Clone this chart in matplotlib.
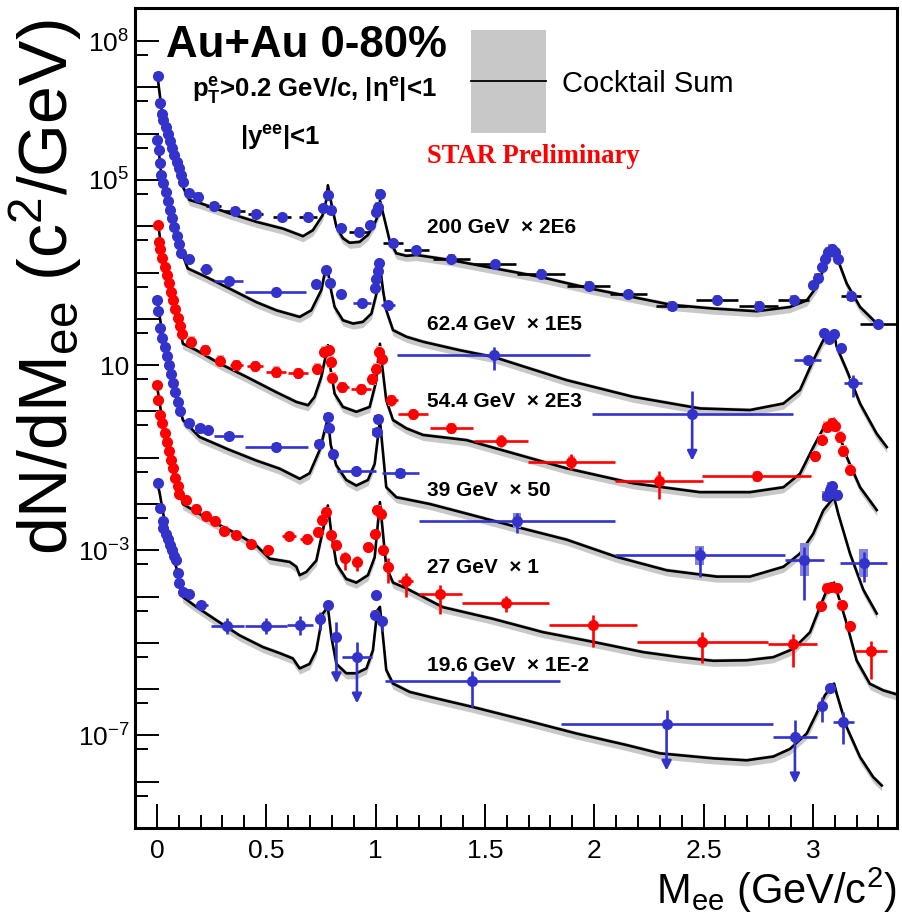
import numpy as np
import matplotlib
matplotlib.use("Agg")
import matplotlib.pyplot as plt
from matplotlib.patches import Rectangle
from matplotlib.ticker import FixedLocator, FuncFormatter

plt.rcParams['font.family'] = ['Liberation Sans', 'DejaVu Sans']
plt.rcParams['mathtext.default'] = 'regular'

# ---- 200 GeV (x 2E6) ----
e200_lm_x = [0.007, 0.015, 0.024, 0.03, 0.04, 0.05, 0.06, 0.07, 0.08, 0.09, 0.10, 0.11, 0.12]
e200_lm_y = [1.78e7, 4.7e6, 2.7e6, 1.95e6, 1.38e6, 1.0e6, 7.1e5, 5.0e5, 3.5e5, 2.5e5, 1.8e5, 1.26e5, 9.1e4]
e200_x = [0.146, 0.189, 0.259, 0.355, 0.451, 0.573, 0.691, 0.761, 0.783, 0.795, 0.843, 0.924, 0.976,
          1.003, 1.011, 1.019, 1.08, 1.186, 1.347, 1.546, 1.756, 1.974, 2.155, 2.354, 2.562, 2.752,
          2.912, 3.002, 3.022, 3.043, 3.055, 3.07, 3.086, 3.10, 3.113, 3.173, 3.30]
e200_y = [5.2e4, 4.3e4, 2.7e4, 2.1e4, 1.8e4, 1.55e4, 1.6e4, 2.45e4, 4.7e4, 2.2e4, 9.0e3, 7.6e3, 1.05e4,
          2.0e4, 2.6e4, 5.0e4, 4.3e3, 3.0e3, 2.0e3, 1.5e3, 9.5e2, 5.2e2, 3.4e2, 1.9e2, 2.6e2, 1.9e2,
          2.6e2, 5.3e2, 7.7e2, 1.3e3, 2.0e3, 2.8e3, 3.3e3, 2.8e3, 2.0e3, 3.1e2, 76]
e200_xerr = [0.02, 0.02, 0.034, 0.05, 0.035, 0.04, 0.04, 0, 0, 0, 0.02, 0.045, 0,
             0, 0, 0, 0.045, 0.057, 0.083, 0.095, 0.11, 0.10, 0.085, 0.07, 0.095, 0.09,
             0.07, 0, 0, 0, 0, 0, 0, 0, 0, 0.045, 0.085]

# ---- 62.4 GeV (x 1E5) ----
e62_lm_x = [0.0, 0.009, 0.012, 0.02, 0.03, 0.04, 0.05, 0.06, 0.07, 0.08, 0.09, 0.10, 0.11]
e62_lm_y = [7.2e5, 4.4e5, 2.3e5, 1.3e5, 8.5e4, 5.5e4, 3.5e4, 2.3e4, 1.5e4, 9.8e3, 6.3e3, 4.2e3, 2.7e3]
e62_x = [0.149, 0.226, 0.329, 0.543, 0.726, 0.772, 0.793, 0.843, 0.938, 0.996, 1.004, 1.011, 1.016,
         1.057, 1.54, 2.448, 2.976, 3.052, 3.074, 3.097, 3.127, 3.185]
e62_y = [2.0e3, 1.2e3, 6.6e2, 3.8e2, 5.6e2, 1.12e3, 6.0e2, 3.4e2, 2.2e2, 4.6e2, 7.3e2, 1.1e3, 1.58e3,
         1.95e2, 16.5, 0.86, 12.8, 48.5, 37, 46, 24, 4.1]
e62_xerr = [0, 0.027, 0.066, 0.14, 0, 0, 0, 0.015, 0.04, 0, 0, 0, 0,
            0.03, 0.44, 0.46, 0.063, 0, 0, 0, 0, 0.042]
e62_dn = [0, 0, 0, 0, 0, 0, 0, 0.05, 0.05, 0, 0, 0, 0, 0, 0.32, 0, 0.05, 0, 0, 0, 0, 0.3]
e62_up = [0, 0, 0, 0, 0, 0, 0, 0.05, 0.05, 0, 0, 0, 0, 0, 0.18, 0.51, 0.05, 0, 0, 0, 0, 0.17]
e62_ul = [15]

# ---- 54.4 GeV (x 2E3) ----
e54_lm_x = [0.004, 0.009, 0.015, 0.025, 0.035, 0.045, 0.055, 0.065, 0.075, 0.085, 0.095, 0.105, 0.115]
e54_lm_y = [1.05e4, 4.6e3, 3.2e3, 2.1e3, 1.35e3, 8.9e2, 5.9e2, 3.8e2, 2.5e2, 1.66e2, 1.07e2, 71, 46]
e54_x = [0.157, 0.222, 0.29, 0.363, 0.448, 0.546, 0.645, 0.734, 0.764, 0.785, 0.795, 0.802, 0.848,
         0.935, 0.985, 1.004, 1.016, 1.029, 1.072, 1.171, 1.347, 1.573, 1.896, 2.296, 2.743,
         3.01, 3.04, 3.063, 3.086, 3.101, 3.124, 3.139, 3.17]
e54_y = [32, 21, 12.6, 9.9, 9.4, 7.1, 6.7, 8.4, 19.3, 21, 11.7, 5.3, 3.3,
         3.0, 4.9, 8.4, 19.3, 13.8, 1.74, 0.86, 0.43, 0.23, 0.081, 0.032, 0.040,
         0.107, 0.245, 0.46, 0.55, 0.48, 0.28, 0.14, 0.055]
e54_xerr = [0, 0.01, 0.02, 0.03, 0.035, 0.045, 0.045, 0, 0, 0, 0, 0, 0.03,
            0.045, 0, 0, 0, 0, 0.03, 0.07, 0.099, 0.125, 0.2, 0.2, 0.25,
            0, 0, 0, 0, 0, 0, 0, 0]
e54_dn = [0] * 12 + [0.08, 0.06, 0, 0, 0, 0, 0.12, 0.06, 0.08, 0.12, 0.17, 0.4, 0.03,
                     0, 0, 0, 0, 0, 0.05, 0.08, 0.12]
e54_up = [0] * 12 + [0.08, 0.06, 0, 0, 0, 0, 0.12, 0.06, 0.08, 0.12, 0.17, 0.2, 0.03,
                     0, 0, 0, 0, 0, 0.05, 0.08, 0.12]

# ---- 39 GeV (x 50) ----
e39_lm_x = [0.0, 0.004, 0.015, 0.025, 0.035, 0.045, 0.055, 0.065, 0.075, 0.085, 0.095, 0.105]
e39_lm_y = [2.6e2, 1.5e2, 62, 39, 25, 15.8, 10, 6.3, 4.1, 2.6, 1.6, 1.03]
e39_x = [0.149, 0.195, 0.233, 0.329, 0.546, 0.741, 0.782, 0.785, 0.805, 0.912, 1.005, 1.011,
         1.113, 1.647, 2.483, 2.961, 3.063, 3.078, 3.086, 3.109, 3.232]
e39_y = [0.55, 0.43, 0.39, 0.29, 0.17, 0.20, 0.76, 0.43, 0.118, 0.051, 0.36, 0.70,
         0.046, 0.0044, 7.8e-4, 6.3e-4, 0.0148, 0.020, 0.024, 0.016, 5.4e-4]
e39_xerr = [0, 0.01, 0.015, 0.066, 0.145, 0, 0, 0, 0, 0.09, 0, 0,
            0.084, 0.447, 0.389, 0.089, 0, 0, 0, 0, 0.106]
e39_dn = [0] * 12 + [0.1, 0.27, 0.47, 0.88, 0, 0, 0, 0, 0.42]
e39_up = [0] * 12 + [0.1, 0.17, 0.18, 0.27, 0, 0, 0, 0, 0.23]
e39_sys = [0.08] * 12 + [0.1, 0.16, 0.2, 0.35, 0.1, 0.1, 0.1, 0.1, 0.3]

# ---- 27 GeV (x 1) ----
e27_lm_x = [0.0, 0.004, 0.015, 0.025, 0.035, 0.045, 0.055, 0.065, 0.075, 0.085, 0.095, 0.103]
e27_lm_y = [3.7, 1.8, 0.85, 0.55, 0.35, 0.22, 0.143, 0.091, 0.059, 0.037, 0.024, 0.0168]
e27_x = [0.134, 0.18, 0.226, 0.264, 0.309, 0.363, 0.432, 0.508, 0.604, 0.686, 0.736, 0.757,
         0.775, 0.798, 0.821, 0.859, 0.915, 0.967, 0.999, 1.008, 1.027, 1.034, 1.057, 1.138,
         1.297, 1.595, 1.995, 2.494, 2.908, 3.037, 3.063, 3.081, 3.109, 3.132, 3.17, 3.266]
e27_y = [0.0123, 0.0078, 0.0055, 0.0044, 0.0026, 0.0021, 0.00134, 0.00103, 0.0020, 0.00178,
         0.0025, 0.0045, 0.0068, 0.0021, 0.0013, 6.9e-4, 5.6e-4, 0.00115, 0.0022, 0.0074,
         0.0062, 0.0010, 4.4e-4, 2.2e-4, 1.12e-4, 7.3e-5, 2.4e-5, 1.07e-5, 9.5e-6, 6.4e-5,
         1.55e-4, 1.6e-4, 1.55e-4, 6.7e-5, 2.3e-5, 6.6e-6]
e27_xerr = [0, 0, 0, 0, 0.01, 0.015, 0.02, 0.02, 0.03, 0.03, 0, 0,
            0, 0, 0, 0.02, 0.02, 0, 0, 0, 0, 0, 0, 0.035,
            0.1, 0.2, 0.2, 0.3, 0.113, 0, 0, 0, 0, 0, 0, 0.075]
e27_dn = [0, 0, 0, 0, 0, 0, 0, 0.06, 0, 0, 0, 0, 0, 0, 0, 0.27, 0.2, 0, 0, 0, 0, 0.05,
          0.36, 0.35, 0.42, 0.2, 0.47, 0.47, 0.5, 0, 0, 0, 0, 0, 0.1, 0.6]
e27_up = [0, 0, 0, 0, 0, 0, 0, 0.06, 0, 0, 0, 0, 0, 0, 0, 0.12, 0.12, 0, 0, 0, 0, 0.05,
          0.18, 0.17, 0.2, 0.14, 0.22, 0.2, 0.22, 0, 0, 0, 0, 0, 0.1, 0.23]

# ---- 19.6 GeV (x 1E-2) ----
e19_lm_x = [0.004, 0.015, 0.027, 0.03, 0.04, 0.05, 0.06, 0.07, 0.08, 0.088, 0.096, 0.103, 0.119]
e19_lm_y = [0.029, 0.0080, 0.0043, 0.0030, 0.0022, 0.00174, 0.00132, 0.0010, 7.6e-4, 6.2e-4,
            3.2e-4, 2.0e-4, 1.26e-4]
e19_x = [0.146, 0.203, 0.322, 0.5, 0.656, 0.744, 0.782, 0.821, 0.915, 0.996, 1.004, 1.029,
         1.443, 2.331, 2.918, 3.04, 3.078, 3.139]
e19_y = [1.15e-4, 6.5e-5, 2.3e-5, 2.3e-5, 2.4e-5, 3.3e-5, 6.5e-5, 1.34e-5, 4.9e-6, 4.1e-5,
         1.07e-4, 2.9e-5, 1.48e-6, 1.74e-7, 9.2e-8, 4.3e-7, 1.05e-6, 2.0e-7]
e19_xerr = [0, 0.03, 0.076, 0.095, 0.06, 0.02, 0, 0, 0.07, 0, 0, 0,
            0.4, 0.485, 0.099, 0, 0, 0.048]
e19_dn = [0, 0, 0.18, 0.18, 0.2, 0.25, 0, 0, 0, 0, 0, 0.2, 0.56, 0, 0, 0.35, 0, 0.49]
e19_up = [0, 0, 0.18, 0.18, 0.2, 0.14, 0, 0.32, 0.32, 0, 0, 0.05, 0.23, 0.3, 0.36, 0.2, 0, 0.2]
e19_ul = [7, 8, 13, 14]

# ---- cocktail sums ----
c200_x = [0.005, 0.024, 0.06, 0.119, 0.149, 0.203, 0.332, 0.454, 0.576, 0.668, 0.713, 0.757,
          0.775, 0.782, 0.798, 0.821, 0.851, 0.881, 0.927, 0.965, 0.996, 1.016, 1.02, 1.042,
          1.064, 1.095, 1.141, 1.187, 1.347, 1.545, 1.751, 1.974, 2.155, 2.354, 2.544, 2.743,
          2.895, 2.972, 3.017, 3.063, 3.097, 3.109, 3.155, 3.216, 3.292]
c200_y = [1.44e7, 2.7e6, 7.1e5, 7.1e4, 3.7e4, 3.1e4, 1.9e4, 1.25e4, 8.9e3, 6.1e3, 8.2e3, 1.7e4,
          3.7e4, 7.7e4, 3.1e4, 9.7e3, 5.5e3, 4.4e3, 4.6e3, 6.5e3, 1.15e4, 2.0e4, 3.6e4, 1.35e4,
          5.0e3, 2.6e3, 2.3e3, 2.4e3, 1.85e3, 1.23e3, 8.1e2, 4.6e2, 3.1e2, 2.0e2, 1.67e2, 1.46e2,
          1.8e2, 2.5e2, 4.9e2, 1.85e3, 3.0e3, 2.2e3, 5.8e2, 1.8e2, 80]
c62_x = [0.003, 0.02, 0.06, 0.10, 0.141, 0.226, 0.332, 0.454, 0.546, 0.653, 0.706, 0.752,
         0.767, 0.782, 0.79, 0.813, 0.851, 0.897, 0.942, 0.981, 1.004, 1.02, 1.034, 1.049,
         1.08, 1.141, 1.217, 1.385, 1.54, 1.873, 2.178, 2.483, 2.712, 2.865, 2.941, 3.002,
         3.048, 3.097, 3.109, 3.155, 3.216, 3.292, 3.338]
c62_y = [7.9e5, 1.3e5, 2.3e4, 4.2e3, 1.23e3, 8.0e2, 4.5e2, 2.3e2, 1.53e2, 1.1e2, 1.53e2, 4.2e2,
         9.5e2, 1.23e3, 5.8e2, 1.8e2, 93, 79, 86, 1.3e2, 3.5e2, 1.45e3, 4.2e2, 1.54e2,
         57, 41, 32, 21, 15, 4.75, 2.07, 1.16, 1.07, 1.48, 2.9, 12.8,
         35, 48.5, 25, 7.8, 1.48, 0.33, 0.17]
c54_x = [0.005, 0.03, 0.07, 0.119, 0.18, 0.287, 0.409, 0.546, 0.638, 0.691, 0.721, 0.752,
         0.782, 0.79, 0.813, 0.851, 0.912, 0.973, 1.0, 1.02, 1.031, 1.049, 1.08, 1.141,
         1.217, 1.416, 1.873, 2.178, 2.483, 2.712, 2.865, 2.941, 3.002, 3.055, 3.097, 3.109,
         3.155, 3.216, 3.292]
c54_y = [1.2e4, 1.5e3, 3.2e2, 29, 21, 10.8, 5.6, 2.6, 1.6, 1.36, 2.06, 5.6,
         27, 10.8, 2.4, 1.25, 0.98, 1.25, 4.0, 29, 9.1, 1.74, 0.65, 0.43,
         0.31, 0.24, 0.059, 0.028, 0.018, 0.018, 0.023, 0.045, 0.17, 0.50, 0.69, 0.46,
         0.104, 0.023, 0.0074]
c39_x = [0.003, 0.03, 0.07, 0.119, 0.195, 0.328, 0.454, 0.561, 0.653, 0.698, 0.744, 0.782,
         0.795, 0.82, 0.866, 0.912, 0.965, 0.996, 1.02, 1.033, 1.049, 1.095, 1.248, 1.416,
         1.644, 1.873, 2.102, 2.331, 2.56, 2.712, 2.865, 2.941, 3.002, 3.048, 3.097, 3.116,
         3.17, 3.231, 3.292]
c39_y = [2.4e2, 31, 5.0, 0.65, 0.28, 0.15, 0.087, 0.058, 0.035, 0.046, 0.145, 0.72,
         0.19, 0.069, 0.033, 0.025, 0.033, 0.074, 0.65, 0.145, 0.023, 0.014, 0.010, 0.0062,
         0.0032, 0.0017, 7.2e-4, 3.7e-4, 2.7e-4, 2.7e-4, 4.4e-4, 8.5e-4, 0.0023, 0.0073, 0.014, 0.0062,
         8.5e-4, 1.4e-4, 4.3e-5]
c27_x = [0.002, 0.03, 0.07, 0.119, 0.18, 0.256, 0.363, 0.454, 0.515, 0.607, 0.638, 0.653,
         0.683, 0.729, 0.759, 0.782, 0.798, 0.821, 0.866, 0.912, 0.965, 0.996, 1.02, 1.034,
         1.049, 1.08, 1.141, 1.308, 1.537, 1.766, 1.995, 2.224, 2.392, 2.544, 2.697, 2.819,
         2.91, 2.987, 3.032, 3.063, 3.097, 3.109, 3.155, 3.2, 3.261, 3.322, 3.384]
c27_y = [3.2, 0.45, 0.073, 0.010, 0.0067, 0.0041, 0.0023, 0.00128, 6.6e-4, 5.6e-4, 4.4e-4, 2.9e-4,
         3.4e-4, 6.0e-4, 0.0027, 0.0093, 0.0023, 5.1e-4, 2.4e-4, 2.0e-4, 2.9e-4, 7.1e-4, 0.011, 0.0023,
         4.4e-4, 2.0e-4, 1.5e-4, 5.9e-5, 3.3e-5, 1.7e-5, 1.05e-5, 6.3e-6, 4.9e-6, 4.1e-6, 4.2e-6, 4.9e-6,
         7.4e-6, 1.7e-5, 5.9e-5, 1.35e-4, 2.0e-4, 1.35e-4, 2.6e-5, 4.2e-6, 1.3e-6, 9.4e-7, 7.7e-7]
c19_x = [0.004, 0.012, 0.05, 0.088, 0.119, 0.18, 0.271, 0.378, 0.485, 0.561, 0.622, 0.653,
         0.698, 0.729, 0.759, 0.782, 0.798, 0.821, 0.866, 0.912, 0.958, 0.988, 1.008, 1.02,
         1.034, 1.049, 1.08, 1.156, 1.248, 1.446, 1.69, 1.919, 2.148, 2.3, 2.544, 2.697,
         2.819, 2.895, 2.972, 3.017, 3.055, 3.097, 3.109, 3.155, 3.216, 3.276, 3.315]
c19_y = [0.025, 0.018, 0.0017, 4.4e-4, 9.8e-5, 6.0e-5, 3.1e-5, 1.45e-5, 8.1e-6, 6.0e-6, 4.6e-6, 2.8e-6,
         3.5e-6, 6.9e-6, 4.3e-5, 6.0e-5, 1.35e-5, 3.5e-6, 2.2e-6, 2.2e-6, 2.8e-6, 6.9e-6, 5.0e-5, 6.0e-5,
         1.35e-5, 2.6e-6, 1.32e-6, 8.7e-7, 6.8e-7, 4.1e-7, 2.1e-7, 1.1e-7, 6.2e-8, 4.1e-8, 3.2e-8, 2.9e-8,
         3.5e-8, 5.1e-8, 1.1e-7, 3.0e-7, 7.4e-7, 1.32e-6, 8.0e-7, 1.5e-7, 3.4e-8, 1.26e-8, 8.3e-9]

energy_labels = ["200 GeV  \u00d7 2E6", "62.4 GeV  \u00d7 1E5", "54.4 GeV  \u00d7 2E3",
                 "39 GeV  \u00d7 50", "27 GeV  \u00d7 1", "19.6 GeV  \u00d7 1E-2"]

BLUE = '#3333cc'
RED = '#ff0000'


def draw_cocktail(ax, x, y):
    x = np.asarray(x)
    y = np.asarray(y)
    ax.fill_between(x, y * 10 ** -0.12, y * 10 ** 0.05, color='#c8c8c8', lw=0, zorder=1)
    ax.plot(x, y, color='k', lw=1.9, zorder=2)


def draw_data(ax, x, y, color, box, xerr=None, dn=None, up=None, ul=(), sys=0.08,
              bar_color=None, box_w=0.015):
    x = np.asarray(x, float)
    y = np.asarray(y, float)
    n = len(x)
    bar_color = bar_color or color
    sys = np.broadcast_to(np.asarray(sys, float), (n,))
    for xi, yi, s in zip(x, y, sys):
        ax.add_patch(Rectangle((xi - box_w, yi * 10 ** -s), 2 * box_w,
                               yi * (10 ** s - 10 ** -s), facecolor=box,
                               edgecolor='none', zorder=3))
    if xerr is not None:
        xerr = np.asarray(xerr, float)
        m = xerr > 0
        ax.hlines(y[m], x[m] - xerr[m], x[m] + xerr[m], color=bar_color, lw=1.9, zorder=4)
    if dn is not None:
        dn = np.asarray(dn, float)
        up = np.asarray(up, float)
        m = (dn > 0) | (up > 0)
        ax.vlines(x[m], y[m] * 10 ** -dn[m], y[m] * 10 ** up[m], color=color, lw=1.9, zorder=4)
    for i in ul:
        ax.annotate('', xy=(x[i], y[i] / 10), xytext=(x[i], y[i]),
                    arrowprops=dict(arrowstyle='-|>', color=color, lw=1.9,
                                    mutation_scale=14, shrinkA=0, shrinkB=0),
                    zorder=4)
    ax.plot(x, y, 'o', ms=8, color=color, mec=color, mew=0, zorder=5)


fig = plt.figure(figsize=(9.02, 9.19), dpi=100)
ax = fig.add_axes([0.1497, 0.0990, 0.8448, 0.8923])
ax.set_yscale('log')
ax.set_xlim(-0.1, 3.385)
ax.set_ylim(1e-9, 5.2e8)

for cx, cy in [(c200_x, c200_y), (c62_x, c62_y), (c54_x, c54_y),
               (c39_x, c39_y), (c27_x, c27_y), (c19_x, c19_y)]:
    draw_cocktail(ax, cx, cy)

# low-mass fine bins
draw_data(ax, e200_lm_x, e200_lm_y, BLUE, '#9a9a9a', box_w=0.018)
draw_data(ax, e62_lm_x, e62_lm_y, BLUE, '#ece7cf', box_w=0.018)
draw_data(ax, e54_lm_x, e54_lm_y, RED, '#f5a3a3', box_w=0.018)
draw_data(ax, e39_lm_x, e39_lm_y, BLUE, '#ece7cf', box_w=0.018)
draw_data(ax, e27_lm_x, e27_lm_y, RED, '#f5b8b8', box_w=0.018)
draw_data(ax, e19_lm_x, e19_lm_y, BLUE, '#f2c6c6', box_w=0.018)

draw_data(ax, e200_x, e200_y, BLUE, '#9a9a9a', xerr=e200_xerr, bar_color='k', sys=0.1)
draw_data(ax, e62_x, e62_y, BLUE, '#ece7cf', xerr=e62_xerr, dn=e62_dn, up=e62_up,
          ul=e62_ul, sys=0.1)
draw_data(ax, e54_x, e54_y, RED, '#f5a3a3', xerr=e54_xerr, dn=e54_dn, up=e54_up, sys=0.12)
draw_data(ax, e39_x, e39_y, '#3333cc', '#8585e0', xerr=e39_xerr, dn=e39_dn, up=e39_up,
          sys=e39_sys, box_w=0.02)
draw_data(ax, e27_x, e27_y, RED, '#f5b8b8', xerr=e27_xerr, dn=e27_dn, up=e27_up, sys=0.1)
draw_data(ax, e19_x, e19_y, BLUE, '#f2c6c6', xerr=e19_xerr, dn=e19_dn, up=e19_up,
          ul=e19_ul, sys=0.1)

# axes styling
for sp in ax.spines.values():
    sp.set_linewidth(2.2)
ax.xaxis.set_major_locator(FixedLocator([0, 0.5, 1, 1.5, 2, 2.5, 3]))
ax.xaxis.set_minor_locator(FixedLocator(np.arange(0, 3.4, 0.1)))
ax.xaxis.set_major_formatter(FuncFormatter(lambda v, p: '%g' % v))
decades = list(range(-9, 9))
shown = {8, 5, 1, -3, -7}
ax.yaxis.set_major_locator(FixedLocator([10.0 ** k for k in decades]))
ax.yaxis.set_minor_locator(FixedLocator([5 * 10.0 ** k for k in range(-10, 8)]))


def ylab(v, p):
    k = int(round(np.log10(v)))
    if k not in shown:
        return ''
    return '10' if k == 1 else r'$10^{%d}$' % k


ax.yaxis.set_major_formatter(FuncFormatter(ylab))
ax.tick_params(which='both', direction='in', top=False, right=False, width=1.4)
ax.tick_params(which='major', length=17, labelsize=19)
ax.tick_params(axis='x', which='major', pad=8)
ax.tick_params(axis='y', which='major', pad=4)
ax.tick_params(which='minor', length=9.5)

fig.text(46 / 902, 1 - 287 / 919, 'dN/dM$_{ee}$ (c$^{2}$/GeV)', rotation=90,
         ha='center', va='center', fontsize=49)
ax.text(1.0, -0.0927, 'M$_{ee}$ (GeV/c$^{2}$)', transform=ax.transAxes,
        ha='right', va='baseline', fontsize=30)

# header texts
ax.text(0.040, 0.9406, 'Au+Au 0-80%', transform=ax.transAxes, fontsize=31.5,
        fontweight='bold', va='baseline')
ax.text(0.0744, 0.892, r'$p_{T}^{e}$>0.2 GeV/c, |$\eta^{e}$|<1', transform=ax.transAxes,
        fontsize=18.5, fontweight='bold', va='baseline')
ax.text(0.138, 0.833, r'|$y^{ee}$|<1', transform=ax.transAxes,
        fontsize=18.5, fontweight='bold', va='baseline')
ax.text(0.383, 0.8114, 'STAR Preliminary', transform=ax.transAxes, color='red',
        fontsize=19.2, fontweight='bold', va='baseline', family='Liberation Serif')

# legend
ax.add_patch(Rectangle((0.4409, 0.848), 0.0985, 0.125, transform=ax.transAxes,
                       facecolor='#c8c8c8', edgecolor='none', zorder=6))
ax.plot([0.4409, 0.5394], [0.911, 0.911], transform=ax.transAxes, color='k', lw=1.3, zorder=7)
ax.text(0.560, 0.898, 'Cocktail Sum', transform=ax.transAxes, fontsize=21, va='baseline')

for lab, yb in zip(energy_labels, [0.7252, 0.6073, 0.513, 0.4049, 0.3106, 0.1918]):
    ax.text(0.383, yb, lab, transform=ax.transAxes, fontsize=15, fontweight='bold',
            va='baseline')

fig.savefig('out.png', dpi=100)
